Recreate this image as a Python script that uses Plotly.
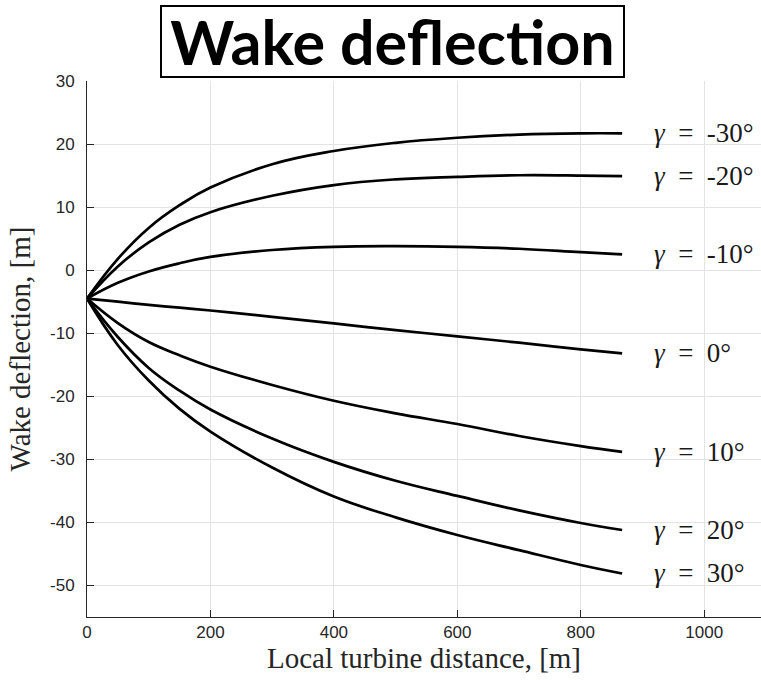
import plotly.graph_objects as go

# Downstream distance samples [m]
distance = [0, 50, 100, 150, 200, 300, 400, 500, 600, 700, 800, 867]

# Wake centre deflection [m] for each yaw angle
defl_m30 = [-4.5, 1.8, 6.7, 10.3, 13.1, 16.8, 18.9, 20.2, 21.0, 21.5, 21.7, 21.7]
defl_m20 = [-4.5, 0.6, 4.4, 7.2, 9.2, 11.8, 13.5, 14.4, 14.8, 15.05, 15.0, 14.9]
defl_m10 = [-4.5, -2.0, -0.2, 1.1, 2.1, 3.2, 3.7, 3.8, 3.7, 3.4, 2.85, 2.5]
defl_0 = [-4.5, -5.0, -5.5, -5.95, -6.4, -7.4, -8.45, -9.5, -10.5, -11.5, -12.55, -13.2]
defl_p10 = [-4.5, -8.4, -11.4, -13.5, -15.3, -18.2, -20.7, -22.7, -24.4, -26.3, -27.9, -28.8]
defl_p20 = [-4.5, -10.6, -15.5, -19.1, -22.1, -26.7, -30.4, -33.4, -35.8, -38.1, -40.1, -41.2]
defl_p30 = [-4.5, -11.9, -17.5, -22.0, -25.6, -31.3, -35.9, -39.2, -42.0, -44.4, -46.75, -48.1]

yaw_labels = ["-30", "-20", "-10", "0", "10", "20", "30"]
series = [defl_m30, defl_m20, defl_m10, defl_0, defl_p10, defl_p20, defl_p30]

x_ticks = [0, 200, 400, 600, 800, 1000]
y_ticks = [-50, -40, -30, -20, -10, 0, 10, 20, 30]

SP = "\u2002"  # en space around the equals sign

fig = go.Figure()
for lab, ys in zip(yaw_labels, series):
    fig.add_trace(go.Scatter(
        x=distance, y=ys, mode="lines",
        line=dict(color="black", width=2.7, shape="spline", smoothing=1.2),
        showlegend=False, name=lab,
    ))
    fig.add_annotation(
        x=916, y=ys[-1], xref="x", yref="y",
        text="<i>γ</i>" + SP + "=" + SP + lab + "°",
        showarrow=False, xanchor="left", yanchor="middle",
        font=dict(family="Liberation Serif", size=27, color="#1a1a1a"),
    )

# Boxed title above the axes (paper coords are relative to the plot area)
fig.add_annotation(
    x=(392.5 - 87) / 674, y=1 + (81 - 41.5) / 536, xref="paper", yref="paper",
    text="<b>Wake deflection</b>", showarrow=False,
    xanchor="center", yanchor="middle",
    font=dict(family="Lato", size=61, color="black"),
    bordercolor="black", borderwidth=2, bgcolor="white",
    width=459, height=67, borderpad=1,
)

axis_common = dict(
    showline=True, linecolor="#262626", linewidth=1,
    ticks="inside", ticklen=7, tickcolor="#262626", tickwidth=1,
    showgrid=True, gridcolor="#e3e3e3", gridwidth=1,
    zeroline=False, mirror=False,
    tickfont=dict(family="Liberation Sans", size=17, color="#262626"),
    title_font=dict(family="Liberation Serif", size=29, color="#262626"),
)

fig.update_xaxes(
    range=[0, 1092], tickvals=x_ticks, ticktext=[str(v) for v in x_ticks],
    title_text="Local turbine distance, [m]", title_standoff=2,
    **axis_common,
)
fig.update_yaxes(
    range=[-55, 30], tickvals=y_ticks, ticktext=[str(v) for v in y_ticks],
    title_text="Wake deflection, [m]", title_standoff=10,
    ticklabelstandoff=8,
    **axis_common,
)

fig.update_layout(
    width=761, height=680,
    margin=dict(l=87, r=0, t=81, b=63),
    paper_bgcolor="white", plot_bgcolor="white",
)

fig.write_html("out.html")
